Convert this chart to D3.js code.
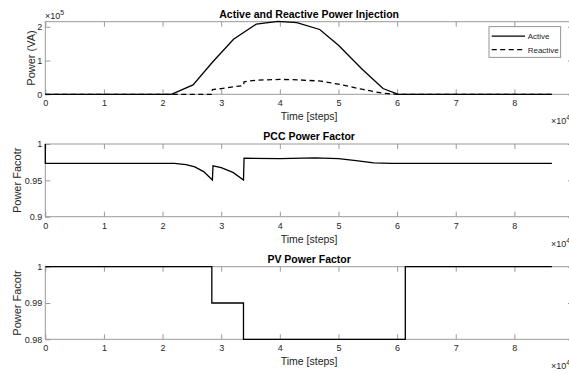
<!DOCTYPE html>
<html>
<head>
<meta charset="utf-8">
<script src="https://cdn.jsdelivr.net/npm/d3@7"></script>
<style>
  body { margin: 0; background: #fff; }
  svg { display: block; font-family: "Liberation Sans", Arial, sans-serif; }
</style>
</head>
<body>
<svg id="chart"></svg>
<script>
// time in units of 1e4 steps
const xTicks = [0, 1, 2, 3, 4, 5, 6, 7, 8, 9]
const xTickLabels = ["0", "1", "2", "3", "4", "5", "6", "7", "8", ""]

// power in units of 1e5 VA
const activeT = [0, 2.15, 2.52, 2.85, 3.21, 3.6, 3.97, 4.29, 4.68, 5.0, 5.4, 5.76, 6.02, 8.64]
const activeV = [0, 0, 0.28, 0.95, 1.63, 2.08, 2.16, 2.12, 1.92, 1.45, 0.75, 0.17, 0, 0]
const reactiveT = [0, 2.84, 2.85, 3.0, 3.2, 3.38, 3.39, 3.6, 4.0, 4.3, 4.7, 5.0, 5.4, 5.76, 6.02, 8.64]
const reactiveV = [0, 0, 0.14, 0.17, 0.22, 0.26, 0.37, 0.42, 0.44, 0.43, 0.39, 0.30, 0.15, 0.03, 0, 0]
const powerTicks = [0, 1, 2]

const pccT = [0, 0.001, 2.2, 2.4, 2.55, 2.7, 2.85, 2.86, 3.0, 3.2, 3.38, 3.39, 4.0, 4.6, 5.0, 5.3, 5.6, 5.9, 8.64]
const pccV = [1, 0.9733, 0.9733, 0.9715, 0.9685, 0.962, 0.9505, 0.970, 0.9675, 0.961, 0.9505, 0.9805, 0.980, 0.9808, 0.980, 0.977, 0.974, 0.9733, 0.9733]
const pccTicks = [0.9, 0.95, 1]
const pccTickLabels = ["0.9", "0.95", "1"]

const pvT = [0, 2.84, 2.84, 3.38, 3.38, 6.14, 6.14, 8.64]
const pvV = [1, 1, 0.99, 0.99, 0.98, 0.98, 1, 1]
const pvTicks = [0.98, 0.99, 1]
const pvTickLabels = ["0.98", "0.99", "1"]

const width = 569, height = 374
const left = 45.3, right = 573

const svg = d3.select("#chart")
    .attr("width", width)
    .attr("height", height)
    .attr("viewBox", [0, 0, width, height])

const x = d3.scaleLinear().domain([0, 9]).range([left, right])

const axisColor = "#9a9a9a"
const textColor = "#262626"

function panel(cfg) {
  const y = d3.scaleLinear().domain(cfg.domain).range([cfg.bottom, cfg.top])
  const g = svg.append("g")

  // box
  g.append("rect")
      .attr("x", left).attr("y", cfg.top)
      .attr("width", right - left).attr("height", cfg.bottom - cfg.top)
      .attr("fill", "none").attr("stroke", axisColor).attr("stroke-width", 1)

  // x ticks, inward, top and bottom
  g.append("g")
      .attr("transform", `translate(0,${cfg.bottom})`)
      .call(d3.axisBottom(x).tickValues(xTicks).tickSize(-5).tickPadding(12)
        .tickFormat((d, i) => xTickLabels[i]))
      .call(a => a.select(".domain").remove())
      .call(a => a.selectAll("line").attr("stroke", axisColor))
      .call(a => a.selectAll("text").attr("fill", textColor).attr("font-size", 9).attr("dy", "0"))
  g.append("g")
      .attr("transform", `translate(0,${cfg.top})`)
      .call(d3.axisTop(x).tickValues(xTicks).tickSize(-5).tickFormat(""))
      .call(a => a.select(".domain").remove())
      .call(a => a.selectAll("line").attr("stroke", axisColor))

  // y ticks, inward, left and right
  g.append("g")
      .attr("transform", `translate(${left},0)`)
      .call(d3.axisLeft(y).tickValues(cfg.ticks).tickSize(-5).tickPadding(3)
        .tickFormat((d, i) => cfg.tickLabels[i]))
      .call(a => a.select(".domain").remove())
      .call(a => a.selectAll("line").attr("stroke", axisColor))
      .call(a => a.selectAll("text").attr("fill", textColor).attr("font-size", 9))
  g.append("g")
      .attr("transform", `translate(${right},0)`)
      .call(d3.axisRight(y).tickValues(cfg.ticks).tickSize(-5).tickFormat(""))
      .call(a => a.select(".domain").remove())
      .call(a => a.selectAll("line").attr("stroke", axisColor))

  // lines
  cfg.series.forEach(s => {
    const line = d3.line().x(i => x(s.t[i])).y(i => y(s.v[i]))
    g.append("path")
        .attr("fill", "none")
        .attr("stroke", "#000")
        .attr("stroke-width", 1.3)
        .attr("stroke-dasharray", s.dash || null)
        .attr("d", line(d3.range(s.t.length)))
  })

  // title
  g.append("text")
      .attr("x", (left + right) / 2).attr("y", cfg.top - 4)
      .attr("text-anchor", "middle")
      .attr("font-size", 10.5).attr("font-weight", "bold")
      .attr("fill", "#000")
      .text(cfg.title)

  // x label
  g.append("text")
      .attr("x", (left + right) / 2).attr("y", cfg.bottom + 26)
      .attr("text-anchor", "middle")
      .attr("font-size", 10.5).attr("fill", textColor)
      .text("Time [steps]")

  // x exponent
  const ex = g.append("text")
      .attr("x", 551).attr("y", cfg.bottom + 30)
      .attr("font-size", 9).attr("fill", textColor)
  ex.append("tspan").text("×10")
  ex.append("tspan").attr("dy", -4).attr("font-size", 7).text("4")

  // y label
  g.append("text")
      .attr("transform", `translate(${cfg.ylabelX},${(cfg.top + cfg.bottom) / 2}) rotate(-90)`)
      .attr("text-anchor", "middle")
      .attr("font-size", 11).attr("fill", textColor)
      .text(cfg.ylabel)

  return { g, y }
}

const p1 = panel({
  top: 21.7, bottom: 94.3, domain: [0, 2.15],
  ticks: powerTicks, tickLabels: powerTicks.map(String),
  title: "Active and Reactive Power Injection",
  ylabel: "Power (VA)", ylabelX: 35,
  series: [
    { t: activeT, v: activeV },
    { t: reactiveT, v: reactiveV, dash: "5,3.5" }
  ]
})

// y exponent for the power panel
const ey = p1.g.append("text")
    .attr("x", 45).attr("y", 19)
    .attr("font-size", 9).attr("fill", textColor)
ey.append("tspan").text("×10")
ey.append("tspan").attr("dy", -4).attr("font-size", 7).text("5")

// legend
const legend = p1.g.append("g").attr("transform", "translate(489,26.7)")
legend.append("rect")
    .attr("width", 71.7).attr("height", 30.6)
    .attr("fill", "#fff").attr("stroke", "#7a7a7a").attr("stroke-width", 0.8)
const legendItems = [{ name: "Active", dash: null }, { name: "Reactive", dash: "5,3.5" }]
legendItems.forEach((d, i) => {
  const yy = 9.5 + i * 13.5
  legend.append("line")
      .attr("x1", 2.7).attr("x2", 36).attr("y1", yy).attr("y2", yy)
      .attr("stroke", "#000").attr("stroke-width", 1.3)
      .attr("stroke-dasharray", d.dash)
  legend.append("text")
      .attr("x", 38.7).attr("y", yy + 3)
      .attr("font-size", 8).attr("fill", textColor)
      .text(d.name)
})

panel({
  top: 144, bottom: 216.7, domain: [0.9, 1],
  ticks: pccTicks, tickLabels: pccTickLabels,
  title: "PCC Power Factor",
  ylabel: "Power Facotr", ylabelX: 20.5,
  series: [{ t: pccT, v: pccV }]
})

panel({
  top: 266.7, bottom: 339.3, domain: [0.98, 1],
  ticks: pvTicks, tickLabels: pvTickLabels,
  title: "PV Power Factor",
  ylabel: "Power Facotr", ylabelX: 20.5,
  series: [{ t: pvT, v: pvV }]
})
</script>
</body>
</html>
